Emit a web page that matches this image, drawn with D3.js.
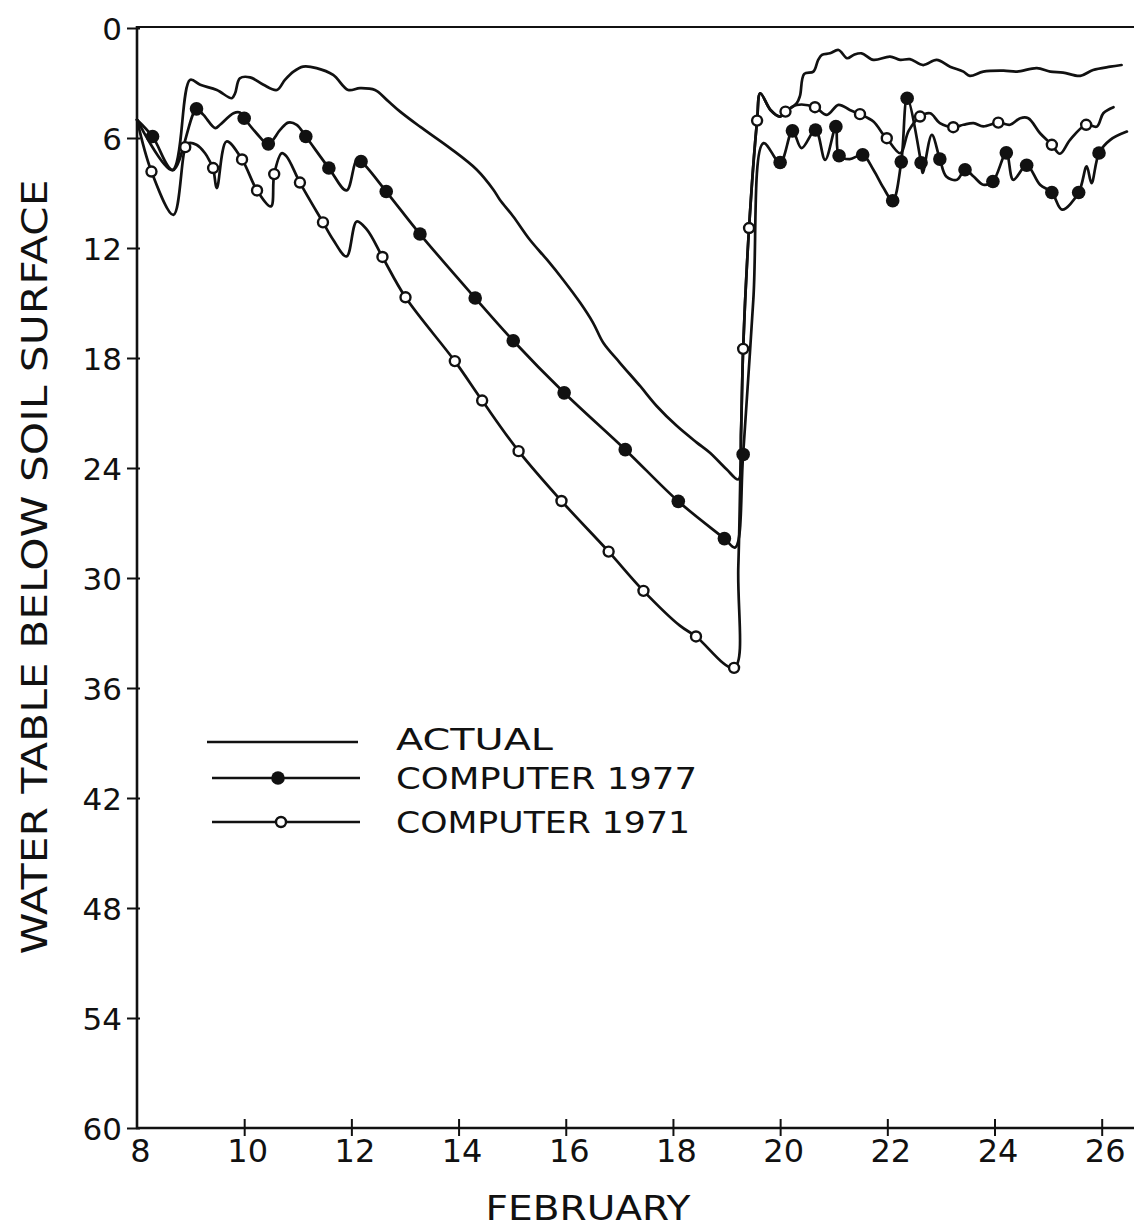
<!DOCTYPE html>
<html>
<head>
<meta charset="utf-8">
<script src="https://cdn.jsdelivr.net/npm/d3@7"></script>
<style>
  html, body { margin: 0; padding: 0; background: #fff; }
  svg { display: block; }
  text { font-family: "DejaVu Sans", "Liberation Sans", sans-serif; fill: #111; }
</style>
</head>
<body>
<svg id="chart" width="1134" height="1228"></svg>
<script>
// ---------------- data (day of February, depth in inches below soil surface) ----------------
const xTickValues = [8, 10, 12, 14, 16, 18, 20, 22, 24, 26];
const yTickValues = [0, 6, 12, 18, 24, 30, 36, 42, 48, 54, 60];
const xAxisTitle = "FEBRUARY";
const yAxisTitle = "WATER TABLE  BELOW  SOIL  SURFACE";
const seriesNames = ["ACTUAL", "COMPUTER 1977", "COMPUTER 1971"];

const actualLine = [
  [8.00, 5.0], [8.66, 7.75], [8.99, 2.83], [9.18, 3.1], [9.49, 3.38], [9.77, 3.83], [9.83, 3.56],
  [9.92, 2.74], [10.11, 2.69], [10.36, 3.1], [10.61, 3.38], [10.76, 2.83], [10.92, 2.38],
  [11.10, 2.11], [11.35, 2.19], [11.66, 2.56], [11.94, 3.38], [12.16, 3.28], [12.44, 3.38],
  [12.66, 3.92], [12.91, 4.56], [13.28, 5.38], [13.84, 6.55], [14.34, 7.73], [14.65, 8.82],
  [14.77, 9.37], [15.02, 10.28], [15.33, 11.55], [15.65, 12.64], [15.95, 13.73], [16.27, 14.99],
  [16.51, 16.08], [16.70, 17.17], [17.01, 18.26], [17.39, 19.54], [17.70, 20.63], [18.07, 21.7],
  [18.44, 22.6], [18.69, 23.17], [19.00, 24.07], [19.22, 24.62], [19.27, 22.0], [19.31, 17.5],
  [19.42, 10.91], [19.57, 5.05], [19.63, 3.56], [19.82, 4.47], [20.00, 4.83], [20.10, 4.56],
  [20.31, 4.1], [20.37, 3.7], [20.45, 2.5], [20.62, 2.38], [20.71, 1.74], [20.78, 1.47],
  [20.93, 1.38], [21.09, 1.2], [21.25, 1.65], [21.37, 1.47], [21.52, 1.38], [21.74, 1.74],
  [22.05, 1.56], [22.24, 1.74], [22.42, 1.70], [22.67, 2.02], [22.92, 1.74], [23.17, 2.11],
  [23.42, 2.38], [23.54, 2.61], [23.79, 2.38], [24.17, 2.33], [24.42, 2.38], [24.79, 2.19],
  [25.04, 2.38], [25.28, 2.43], [25.60, 2.61], [25.84, 2.29], [26.16, 2.11], [26.37, 2.02]
];

const computer1977Line = [
  [8.00, 5.0], [8.29, 5.92], [8.67, 7.75], [9.11, 4.41], [9.24, 4.74], [9.46, 5.46], [9.55, 5.28],
  [9.80, 4.65], [9.92, 4.61], [10.00, 4.92], [10.23, 5.74], [10.45, 6.32], [10.67, 5.56],
  [10.82, 5.16], [10.98, 5.28], [11.15, 5.92], [11.58, 7.64], [11.91, 8.86], [12.10, 7.19],
  [12.18, 7.28], [12.65, 8.92], [13.28, 11.24], [14.31, 14.73], [15.02, 17.06], [15.97, 19.9],
  [17.11, 23.0], [18.10, 25.82], [18.96, 27.85], [19.16, 28.34], [19.31, 23.26], [19.50, 14.8],
  [19.69, 6.28], [20.00, 7.34], [20.23, 5.61], [20.40, 6.55], [20.66, 5.56], [20.84, 7.19],
  [21.04, 5.38], [21.10, 6.97], [21.30, 7.15], [21.54, 6.92], [21.74, 7.73], [21.93, 8.73],
  [22.10, 9.42], [22.26, 7.30], [22.37, 3.83], [22.63, 7.35], [22.66, 7.91], [22.83, 5.83],
  [22.98, 7.15], [23.10, 8.1], [23.30, 8.28], [23.45, 7.73], [23.61, 8.1], [23.79, 8.55],
  [23.97, 8.37], [24.22, 6.81], [24.35, 8.28], [24.60, 7.49], [24.85, 8.55], [25.07, 8.97],
  [25.26, 9.91], [25.57, 8.97], [25.72, 7.55], [25.81, 8.46], [25.95, 6.82], [26.16, 6.1],
  [26.47, 5.65]
];
const computer1977Markers = [
  [8.29, 5.92], [9.11, 4.41], [10.00, 4.92], [10.45, 6.32], [11.15, 5.92], [11.58, 7.64],
  [12.18, 7.28], [12.65, 8.92], [13.28, 11.24], [14.31, 14.73], [15.02, 17.06], [15.97, 19.9],
  [17.11, 23.0], [18.10, 25.82], [18.96, 27.85], [19.31, 23.26], [20.00, 7.34], [20.23, 5.61],
  [20.66, 5.56], [21.04, 5.38], [21.10, 6.97], [21.54, 6.92], [22.10, 9.42], [22.26, 7.30],
  [22.37, 3.83], [22.63, 7.35], [22.98, 7.15], [23.45, 7.73], [23.97, 8.37], [24.22, 6.81],
  [24.60, 7.49], [25.07, 8.97], [25.57, 8.97], [25.95, 6.82]
];

const computer1971Line = [
  [8.00, 5.0], [8.27, 7.83], [8.68, 10.19], [8.90, 6.5], [8.96, 6.28], [9.11, 6.37], [9.27, 6.83],
  [9.36, 7.28], [9.42, 7.64], [9.49, 8.73], [9.67, 6.19], [9.96, 7.17], [10.24, 8.86],
  [10.50, 9.73], [10.56, 7.97], [10.70, 6.83], [10.79, 7.0], [11.04, 8.43], [11.47, 10.6],
  [11.66, 11.55], [11.91, 12.46], [12.10, 10.55], [12.29, 11.0], [12.58, 12.49], [13.01, 14.69],
  [13.93, 18.17], [14.44, 20.32], [15.12, 23.08], [15.92, 25.8], [16.80, 28.56], [17.45, 30.7],
  [18.13, 32.6], [18.43, 33.19], [19.14, 34.9], [19.22, 29.34], [19.31, 17.5], [19.42, 10.91],
  [19.57, 5.05], [19.63, 3.56], [19.82, 4.47], [20.00, 4.83], [20.10, 4.56], [20.31, 4.2],
  [20.65, 4.32], [20.87, 4.74], [21.09, 4.19], [21.30, 4.47], [21.49, 4.70], [21.74, 5.10],
  [21.93, 5.83], [21.99, 6.01], [22.24, 6.83], [22.40, 5.6], [22.61, 4.83], [22.80, 4.65],
  [22.98, 5.19], [23.23, 5.41], [23.42, 5.28], [23.61, 5.19], [23.79, 5.37], [24.07, 5.16],
  [24.29, 5.28], [24.48, 4.92], [24.63, 4.92], [24.85, 5.74], [25.07, 6.37], [25.22, 6.86],
  [25.41, 6.1], [25.71, 5.28], [25.91, 5.38], [26.03, 4.65], [26.22, 4.32]
];
const computer1971Markers = [
  [8.27, 7.83], [8.90, 6.5], [9.42, 7.64], [9.96, 7.17], [10.24, 8.86], [10.56, 7.97],
  [11.04, 8.43], [11.47, 10.6], [12.58, 12.49], [13.01, 14.69], [13.93, 18.17], [14.44, 20.32],
  [15.12, 23.08], [15.92, 25.8], [16.80, 28.56], [17.45, 30.7], [18.43, 33.19], [19.14, 34.9],
  [19.31, 17.5], [19.42, 10.91], [19.57, 5.05], [20.10, 4.56], [20.65, 4.32], [21.49, 4.70],
  [21.99, 6.01], [22.61, 4.83], [23.23, 5.41], [24.07, 5.16], [25.07, 6.37], [25.71, 5.28]
];

// ---------------- layout ----------------
(function () {
const svg = d3.select("#chart");
const pLeft = 137, pRight = 1134, pTop = 28, pBottom = 1128;
const x = d3.scaleLinear().domain([8, 26]).range([pLeft, 1101.7]);
const y = d3.scaleLinear().domain([0, 60]).range([pTop, pBottom]);
const ink = "#111";

// frame: top line and axes
svg.append("line").attr("x1", pLeft).attr("x2", pRight).attr("y1", pTop - 1).attr("y2", pTop - 1)
  .attr("stroke", ink).attr("stroke-width", 2.2);

const yAxis = svg.append("g").attr("transform", `translate(${pLeft},0)`)
  .call(d3.axisLeft(y).tickValues(yTickValues).tickSize(10).tickPadding(5).tickFormat(d3.format("d")));
yAxis.select(".domain").attr("d", `M0,${pTop - 2}V${pBottom + 1}`).attr("stroke", ink).attr("stroke-width", 2.6);
yAxis.selectAll(".tick line").attr("x1", 3).attr("stroke", ink).attr("stroke-width", 2);
yAxis.selectAll(".tick text").attr("font-size", 31).attr("fill", ink)
  .attr("font-family", "DejaVu Sans, sans-serif").attr("dy", "0.36em");

const xAxis = svg.append("g").attr("transform", `translate(0,${pBottom})`)
  .call(d3.axisBottom(x).tickValues(xTickValues).tickSize(8).tickPadding(3).tickFormat(d3.format("d")));
xAxis.select(".domain").attr("d", `M${pLeft - 1},0H${pRight}`).attr("stroke", ink).attr("stroke-width", 2.4);
xAxis.selectAll(".tick line").attr("y1", -9).attr("stroke", ink).attr("stroke-width", 2)
  .attr("display", d => d === 8 ? "none" : null);
xAxis.selectAll(".tick text").attr("font-size", 32).attr("fill", ink)
  .attr("font-family", "DejaVu Sans, sans-serif").attr("dx", 3);

// axis titles
svg.append("text").attr("x", 588).attr("y", 1220).attr("text-anchor", "middle")
  .attr("font-size", 33).attr("textLength", 205).attr("lengthAdjust", "spacingAndGlyphs")
  .text(xAxisTitle);
svg.append("text").attr("transform", "translate(47,567) rotate(-90)").attr("text-anchor", "middle")
  .attr("font-size", 35).attr("textLength", 775).attr("lengthAdjust", "spacingAndGlyphs")
  .text(yAxisTitle);

// series
const line = d3.line().x(d => x(d[0])).y(d => y(d[1])).curve(d3.curveCatmullRom.alpha(0.5));
const lineStyle = sel => sel.attr("fill", "none").attr("stroke", ink).attr("stroke-width", 2.7)
  .attr("stroke-linejoin", "round").attr("stroke-linecap", "round");

svg.append("path").datum(actualLine).attr("d", line).call(lineStyle);
svg.append("path").datum(computer1977Line).attr("d", line).call(lineStyle);
svg.append("path").datum(computer1971Line).attr("d", line).call(lineStyle);

svg.append("g").selectAll("circle").data(computer1977Markers).join("circle")
  .attr("cx", d => x(d[0])).attr("cy", d => y(d[1])).attr("r", 6.8).attr("fill", ink);
svg.append("g").selectAll("circle").data(computer1971Markers).join("circle")
  .attr("cx", d => x(d[0])).attr("cy", d => y(d[1])).attr("r", 5.0)
  .attr("fill", "#fff").attr("stroke", ink).attr("stroke-width", 2.4);

// legend
const legend = svg.append("g");
const legendRows = [
  { name: seriesNames[0], y: 742, x1: 207, x2: 358, marker: null, mx: 0, w: 157, base: 750 },
  { name: seriesNames[1], y: 778, x1: 212, x2: 360, marker: "filled", mx: 278, w: 301, base: 789 },
  { name: seriesNames[2], y: 822, x1: 212, x2: 360, marker: "open", mx: 281, w: 294, base: 833 }
];
legendRows.forEach(r => {
  legend.append("line").attr("x1", r.x1).attr("x2", r.x2).attr("y1", r.y).attr("y2", r.y)
    .attr("stroke", ink).attr("stroke-width", 2.4);
  if (r.marker === "filled") {
    legend.append("circle").attr("cx", r.mx).attr("cy", r.y).attr("r", 6.8).attr("fill", ink);
  } else if (r.marker === "open") {
    legend.append("circle").attr("cx", r.mx).attr("cy", r.y).attr("r", 5.0)
      .attr("fill", "#fff").attr("stroke", ink).attr("stroke-width", 2.4);
  }
  legend.append("text").attr("x", 396).attr("y", r.base).attr("font-size", 31)
    .attr("textLength", r.w).attr("lengthAdjust", "spacingAndGlyphs").text(r.name);
});
})();
</script>
</body>
</html>
